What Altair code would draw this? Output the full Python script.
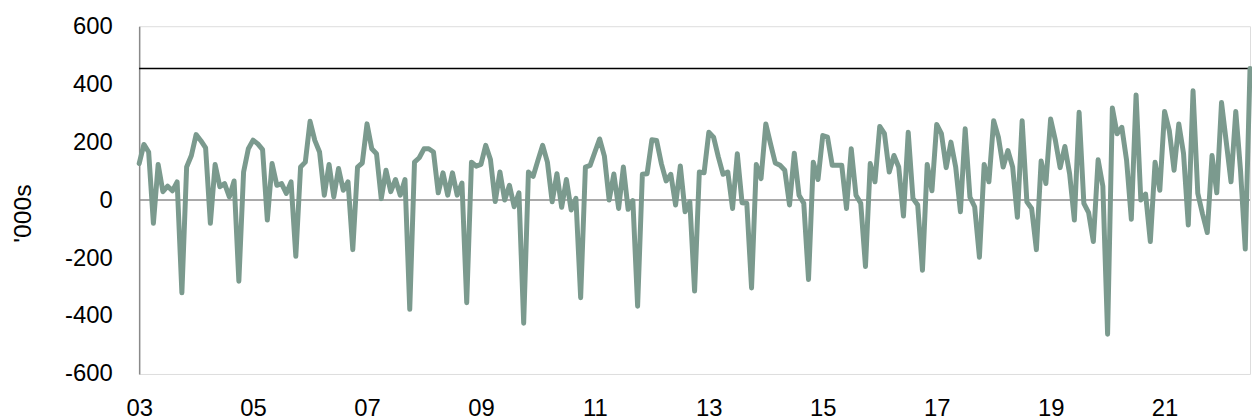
import altair as alt
import pandas as pd

# Monthly change, '000s, Jan 2003 .. Jul 2022
values = [
    126, 192, 166, -80, 123, 29, 48, 32, 63, -320, 114, 154,        # 2003
    226, 205, 180, -80, 123, 46, 57, 11, 66, -280, 97, 177,         # 2004
    207, 194, 174, -69, 126, 51, 57, 23, 63, -194, 114, 131,        # 2005
    272, 206, 166, 17, 123, 11, 109, 34, 63, -171, 114, 128,        # 2006
    263, 177, 160, 5, 103, 29, 71, 17, 71, -377, 131, 146,          # 2007
    177, 177, 166, 25, 94, 17, 94, 17, 59, -354, 131, 117,          # 2008
    123, 189, 140, -5, 97, 0, 51, -23, 25, -425, 97, 82,            # 2009
    137, 189, 131, -6, 91, -25, 71, -34, 6, -337, 114, 120,         # 2010
    166, 211, 152, 0, 90, -29, 114, -32, -2, -366, 89, 91,          # 2011
    208, 206, 126, 66, 89, -17, 118, -40, -6, -314, 97, 94,         # 2012
    234, 217, 149, 89, 97, -29, 160, -9, -11, -303, 123, 74,        # 2013
    263, 194, 128, 120, 103, -17, 162, 17, -11, -274, 131, 71,      # 2014
    223, 217, 120, 120, 120, -29, 177, 17, -11, -229, 126, 63,      # 2015
    254, 229, 97, 154, 114, -55, 234, 6, -17, -242, 123, 32,        # 2016
    261, 229, 112, 200, 114, -40, 246, 10, -23, -197, 123, 63,      # 2017
    274, 217, 114, 171, 114, -59, 274, -6, -29, -171, 135, 57,      # 2018
    280, 206, 112, 185, 91, -69, 303, -11, -43, -143, 139, 48,      # 2019
    -463, 318, 229, 251, 137, -66, 363, 0, 21, -143, 131, 34,       # 2020
    306, 240, 103, 263, 160, -86, 377, 23, -48, -112, 154, 25,      # 2021
    337, 200, 63, 306, 103, -169, 454,                              # 2022
]
tick_labels = ["03", "05", "07", "09", "11", "13", "15", "17", "19", "21"]
y_ticks = [-600, -400, -200, 0, 200, 400, 600]
latest_level = values[-1]

df = pd.DataFrame({"m": list(range(len(values))), "v": values})

label_array = "[" + ",".join(f"'{t}'" for t in tick_labels) + "]"
FONT = "Liberation Sans"
FS = 24

x_enc = alt.X(
    "m:Q",
    scale=alt.Scale(domain=[0, len(values) - 1], nice=False, zero=False),
    axis=alt.Axis(
        values=[24 * i for i in range(len(tick_labels))],
        labelExpr=f"{label_array}[round(datum.value/24)]",
        grid=False, domain=False, ticks=False,
        labelFontSize=FS, labelPadding=23, labelFlush=False,
        labelColor="#000", labelFont=FONT, title=None,
    ),
)
y_scale = alt.Scale(domain=[-600, 600], nice=False)
y_enc = alt.Y(
    "v:Q",
    scale=y_scale,
    axis=alt.Axis(
        values=y_ticks, grid=False, ticks=False,
        labelExpr="'' + datum.value",
        domainColor="#8a8a8a", domainWidth=1.5,
        labelFontSize=FS, labelPadding=27, labelColor="#000", labelFont=FONT,
        title="'000s", titleFontSize=25, titleFontWeight="normal",
        titleFont=FONT, titleColor="#000",
        titleX=-117, titleY=188, titleBaseline="middle",
    ),
)

line = alt.Chart(df).mark_line(
    color="#7b9a8e", strokeWidth=5, strokeJoin="round", strokeCap="round"
).encode(x=x_enc, y=y_enc)

zero = alt.Chart(pd.DataFrame({"v": [0]})).mark_rule(
    color="#8c8c8c", strokeWidth=1.5
).encode(y=alt.Y("v:Q", scale=y_scale))

level = alt.Chart(pd.DataFrame({"v": [latest_level]})).mark_rule(
    color="#000000", strokeWidth=1.5
).encode(y=alt.Y("v:Q", scale=y_scale))

chart = alt.layer(zero, level, line).properties(
    width=1118,
    height=350,
    padding={"left": 132, "top": 17, "right": 2, "bottom": 45},
    autosize=alt.AutoSizeParams(type="none"),
).configure_view(stroke=None).configure(font=FONT)

chart.save("out.html", embed_options={"renderer": "svg", "actions": False})
